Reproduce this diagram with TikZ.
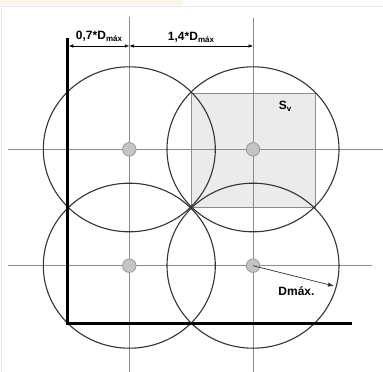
\documentclass[tikz,border=0pt]{standalone}
\usepackage{fontspec}
\setmainfont{Liberation Sans}
\usetikzlibrary{arrows.meta}
\definecolor{peach}{HTML}{FDF3E6}
\definecolor{framecol}{HTML}{E4E7EE}
\definecolor{sqfill}{HTML}{EBEBEB}
\definecolor{gridcol}{HTML}{8C8C8C}
\definecolor{circcol}{HTML}{333333}
\definecolor{dotfill}{HTML}{C4C4C4}
\definecolor{dotdraw}{HTML}{999999}
\tikzset{
  gridline/.style={draw=gridcol, line width=0.9pt},
  circline/.style={draw=circcol, line width=1.1pt},
  axisline/.style={draw=black, line width=2.4pt},
  dot/.style={circle, fill=dotfill, draw=dotdraw, line width=0.8pt, minimum size=13.5pt, inner sep=0pt},
  dimline/.style={draw=black, line width=0.6pt, {Latex[length=4.5pt,width=3.5pt]}-{Latex[length=4.5pt,width=3.5pt]}},
  lbl/.style={font=\fontsize{12}{14}\selectfont\bfseries, inner sep=0pt},
}
\newcommand{\subm}{\raisebox{-0.35ex}{\fontsize{8}{9}\selectfont\bfseries máx}}
\begin{document}
\begin{tikzpicture}[x=1pt,y=-1pt]
\useasboundingbox (0,0) rectangle (383,372);
% page frame
\fill[peach] (0,0) rectangle (183,5);
\draw[framecol, line width=1pt] (0,6.5) -- (383,6.5);
\draw[framecol, line width=1pt] (1.5,6.5) -- (1.5,372);
% shaded square S_v
\filldraw[fill=sqfill, gridline] (191,93.3) rectangle (315,207.7);
% grid lines
\draw[gridline] (8,149.3) -- (383,149.3);
\draw[gridline] (8,265.7) -- (371.7,265.7);
\draw[gridline] (129.3,17) -- (129.3,372);
\draw[gridline] (253,18) -- (253,372);
% centres
\coordinate (p1) at (129.3,149.3);
\coordinate (p2) at (253,149.3);
\coordinate (p3) at (129.3,265.7);
\coordinate (p4) at (253,265.7);
% circles
\foreach \p in {p1,p2,p3,p4}
  \draw[circline] (\p) ellipse [x radius=86, y radius=82.5];
% axes
\coordinate (ax0) at (67.5,38);
\coordinate (ax1) at (67.5,323.5);
\coordinate (ax2) at (352,323.5);
\draw[axisline, line join=miter] (ax0) -- (ax1) -- (ax2);
% dots
\node[dot] (d1) at (p1) {};
\node[dot] (d2) at (p2) {};
\node[dot] (d3) at (p3) {};
\node[dot] (d4) at (p4) {};
% dimension lines
\coordinate (m0) at (68.8,46);
\coordinate (m1) at (129.3,46);
\coordinate (m2) at (253,46);
\draw[dimline] (m0) -- (m1);
\draw[dimline] (m1) -- (m2);
\node[lbl] (l1) at (99,36) {0,7*D\subm};
\node[lbl] (l2) at (191,37.5) {1,4*D\subm};
% S_v label
\node[lbl] (sv) at (285,106.5) {S\raisebox{-0.35ex}{\fontsize{8}{9}\selectfont\bfseries v}};
% radius arrow
\coordinate (rtip) at (334,286);
\draw[draw=circcol, line width=0.7pt, -{Latex[length=6pt,width=4.5pt]}] (d4.center) -- (rtip);
\node[lbl] (dm) at (296.5,291) {Dmáx.};
\end{tikzpicture}
\end{document}
